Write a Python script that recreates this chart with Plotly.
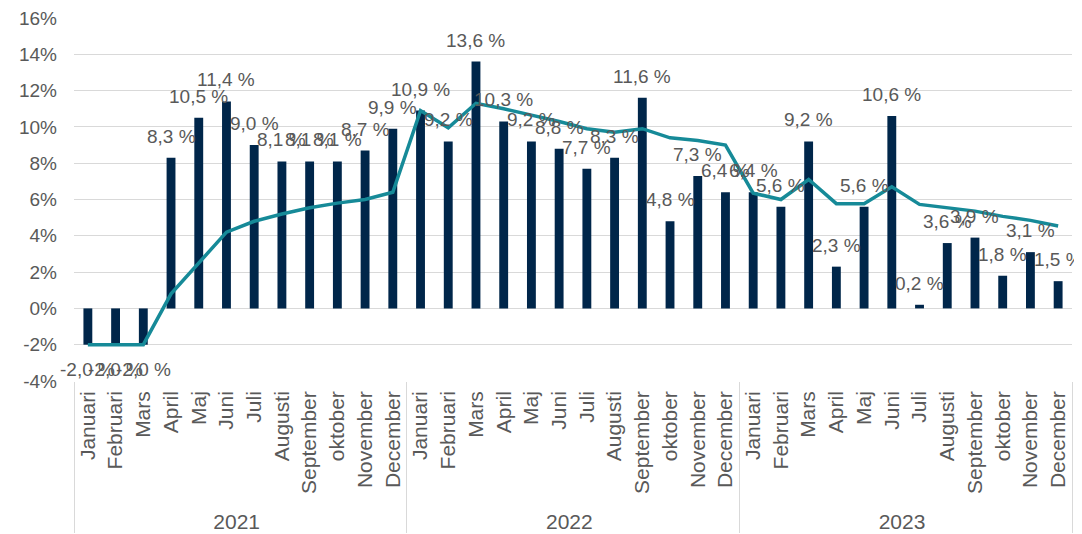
import plotly.graph_objects as go

years = ["2021"] * 12 + ["2022"] * 12 + ["2023"] * 12
month_names = ["Januari", "Februari", "Mars", "April", "Maj", "Juni", "Juli",
               "Augusti", "September", "oktober", "November", "December"]
months = month_names * 3

monthly = [-2.0, -2.0, -2.0, 8.3, 10.5, 11.4, 9.0, 8.1, 8.1, 8.1, 8.7, 9.9,
           10.9, 9.2, 13.6, 10.3, 9.2, 8.8, 7.7, 8.3, 11.6, 4.8, 7.3, 6.4,
           6.4, 5.6, 9.2, 2.3, 5.6, 10.6, 0.2, 3.6, 3.9, 1.8, 3.1, 1.5]

rolling = [-2.0, -2.0, -2.0, 0.8, 2.5, 4.2, 4.8, 5.2, 5.55, 5.8, 6.0, 6.4,
           10.9, 9.95, 11.3, 11.0, 10.65, 10.3, 9.9, 9.7, 9.9, 9.4, 9.25, 9.0,
           6.35, 6.0, 7.1, 5.77, 5.77, 6.7, 5.73, 5.55, 5.36, 5.07, 4.85, 4.54]

y_ticks = list(range(-4, 17, 2))
y_ticktext = [f"{v}%" for v in y_ticks]

labels = [f"{v:.1f} %".replace(".", ",") for v in monthly]

FONT = "Liberation Sans, Arial, sans-serif"
GREY = "#595959"

fig = go.Figure()
fig.add_trace(go.Bar(
    x=[years, months], y=monthly,
    marker=dict(color="#00264a", line=dict(width=0)),
    showlegend=False, hoverinfo="skip",
))
fig.add_trace(go.Scatter(
    x=[years, months], y=rolling, mode="lines",
    line=dict(color="#168a98", width=3.5),
    showlegend=False, cliponaxis=False,
))

for i, (v, t) in enumerate(zip(monthly, labels)):
    fig.add_annotation(
        x=i, y=v, xref="x", yref="y", text=t, showarrow=False,
        yanchor="bottom" if v >= 0 else "top",
        yshift=9 if v >= 0 else -12,
        font=dict(family=FONT, size=19, color=GREY),
    )

# the page body adds an 8px margin, so the figure is offset by 8px
fig.update_layout(
    width=1074, height=526,
    margin=dict(l=66, r=10, t=10, b=153),
    paper_bgcolor="white", plot_bgcolor="white",
    bargap=0.68,
    font=dict(family=FONT, size=19, color=GREY),
)
fig.update_yaxes(
    range=[-4, 16], tickmode="array", tickvals=y_ticks, ticktext=y_ticktext,
    showgrid=True, gridcolor="#d9d9d9", gridwidth=1,
    zeroline=False, showline=False, automargin=False,
    ticklabelstandoff=16, ticklabeloverflow="allow",
    tickfont=dict(family=FONT, size=19, color=GREY),
)
fig.update_xaxes(
    type="multicategory", tickangle=-90, range=[-0.5, 35.5],
    showgrid=False, showline=False, automargin=False,
    ticklabelstandoff=5, ticklabeloverflow="allow",
    showdividers=True, dividercolor="#d9d9d9", dividerwidth=1,
    tickfont=dict(family=FONT, size=21, color=GREY),
)

fig.write_html("out.html")
